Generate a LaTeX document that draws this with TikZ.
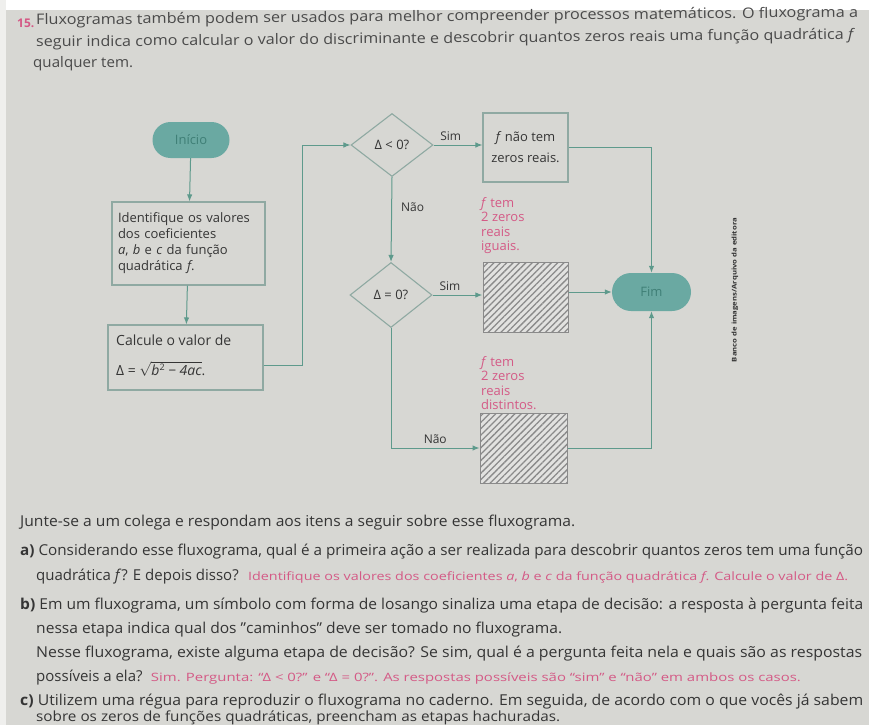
\documentclass[tikz,border=0pt]{standalone}
\usepackage{fontspec}
\setmainfont{Open Sans}
\usetikzlibrary{shapes.geometric,arrows.meta,patterns.meta,calc}
\definecolor{bg}{HTML}{D7D7D3}
\definecolor{tealc}{HTML}{6AA9A2}
\definecolor{tealdark}{HTML}{3F7F76}
\definecolor{lnc}{HTML}{5E9A8C}
\definecolor{boxc}{HTML}{8FA9A2}
\definecolor{txt}{HTML}{353535}
\definecolor{toptxt}{HTML}{4A4A4A}
\definecolor{pinkc}{HTML}{D45A86}
\definecolor{hatc}{HTML}{8A8A8A}
\definecolor{hatbg}{HTML}{E2E2E0}
\newsavebox\fitbox
\newcommand\fitw[2]{\sbox\fitbox{#2}\pgfmathsetmacro\fitr{#1/\the\wd\fitbox}\scalebox{\fitr}[1]{\usebox\fitbox}}
\tikzset{
  body/.style={anchor=base west, inner sep=0pt, text=txt, font=\fontsize{15}{18}\selectfont},
  topline/.style={anchor=base west, inner sep=0pt, text=toptxt, font=\fontsize{14.5}{18}\selectfont, rotate=0.55},
  ans/.style={anchor=base west, inner sep=0pt, text=pinkc, font=\fontsize{11.5}{13}\selectfont},
  term/.style={rectangle, rounded corners=18pt, fill=tealc, draw=none, text=tealdark, font=\fontsize{13}{15}\selectfont},
  proc/.style={rectangle, draw=boxc, line width=1.1pt, text=txt, font=\fontsize{13}{16}\selectfont, align=left},
  dec/.style={diamond, draw=boxc, line width=1.1pt, inner sep=0pt},
  dect/.style={text=txt, font=\fontsize{13}{15}\selectfont},
  intext/.style={anchor=base west, inner sep=0pt, text=txt, font=\fontsize{14}{16}\selectfont},
  hat/.style={rectangle, draw=hatc, line width=1pt, preaction={fill=hatbg}, pattern={Lines[angle=45,distance=4.5pt,line width=1.3pt]}, pattern color=hatc},
  conn/.style={draw=lnc, line width=1pt},
  arr/.style={conn, -{Latex[length=7pt,width=5.5pt]}},
  lbl/.style={text=txt, font=\fontsize{12}{13}\selectfont, inner sep=1pt},
  pnote/.style={anchor=north west, text=pinkc, font=\fontsize{13}{14.5}\selectfont, align=left, inner sep=0pt}
}
\begin{document}
\begin{tikzpicture}[x=1pt,y=-1pt]
\useasboundingbox (0,0) rectangle (869,725);
\fill[bg] (0,0) rectangle (869,725);
\fill[white] (0,0) rectangle (869,10);
\fill[white!60!bg] (0,0) rectangle (6,725);

% top text
\node[anchor=base west, inner sep=0pt, text=pinkc, font=\bfseries\fontsize{12}{14}\selectfont] (num) at (17,28) {15.};
\node[topline] (t1) at (36,25) {\fitw{822}{Fluxogramas também podem ser usados para melhor compreender processos matemáticos. O fluxograma a}};
\node[topline] (t2) at (36,47) {\fitw{819}{seguir indica como calcular o valor do discriminante e descobrir quantos zeros reais uma função quadrática \textit{f}}};
\node[topline] (t3) at (33,68) {\fitw{100}{qualquer tem.}};

% flowchart
\node[term, minimum width=77pt, minimum height=36pt] (ini) at (191,140) {Início};
\node[proc, minimum width=153pt, minimum height=83pt, text width=141pt, inner xsep=6pt] (b1) at (188.5,243.5)
  {Identifique os valores\\dos coeficientes\\\textit{a}, \textit{b} e \textit{c} da função\\quadrática \textit{f}.};
\node[proc, minimum width=155pt, minimum height=65pt] (b2) at (185.5,357.5) {};
\node[intext] (b2a) at (116,345) {Calcule o valor de};
\node[intext] (b2b) at (116,375) {Δ = $\sqrt{\mbox{\itshape b\raisebox{0.55ex}{\upshape\fontsize{9}{9}\selectfont 2} − 4ac}}$.};
\node[dec, minimum width=82pt, minimum height=63pt] (d1) at (392,145) {};
\node[dect] (d1t) at (d1) {Δ < 0?};
\node[dec, minimum width=82pt, minimum height=65pt] (d2) at (391,295) {};
\node[dect] (d2t) at (d2) {Δ = 0?};
\node[proc, minimum width=85pt, minimum height=69pt, align=center, font=\fontsize{13}{21}\selectfont] (bn) at (525.5,147.5) {\textit{f} não tem\\zeros reais.};
\node[hat, minimum width=85pt, minimum height=70pt] (h1) at (525.5,297) {};
\node[hat, minimum width=87pt, minimum height=70pt] (h2) at (523.5,448) {};
\node[term, minimum width=79pt, minimum height=38pt, rounded corners=19pt] (fim) at (651.5,292) {Fim};

\node[pnote] (p1) at (481,197) {\textit{f} tem\\2 zeros\\reais\\iguais.};
\node[pnote] (p2) at (481,356) {\textit{f} tem\\2 zeros\\reais\\distintos.};

% connectors
\draw[arr] (ini) -- (b1);
\draw[arr] (b1) -- (b2);
\coordinate (j1) at (302,365);
\draw[arr] (j1 -| b2.east) -- (j1) |- (d1.west);
\draw[arr] (d1.east) -- node[lbl, above=3pt, pos=0.35] {Sim} (d1.east -| bn.west);
\draw[arr] (d1.south) -- node[lbl, right=8pt, pos=0.36] {Não} (d2.north);
\draw[arr] (d2.east) -- node[lbl, above=3pt, pos=0.35] {Sim} (d2.east -| h1.west);
\draw[arr] (d2.south) |- node[lbl, above=3pt, pos=0.75] {Não} (h2.west);
\draw[arr] (bn.east) -| (fim.north);
\draw[arr] (h1.east |- fim.west) -- (fim.west);
\draw[arr] (h2.east) -| (fim.south);

\node[rotate=90, inner sep=0pt, text=black!80, font=\bfseries\fontsize{6.5}{7}\selectfont] (cred) at (735,290) {\fitw{144}{Banco de imagens/Arquivo da editora}};

% questions
\node[body] (q0) at (20,526) {\fitw{555}{Junte-se a um colega e respondam aos itens a seguir sobre esse fluxograma.}};
\node[body] (qa1) at (20,555) {\fitw{843}{\textbf{a)} Considerando esse fluxograma, qual é a primeira ação a ser realizada para descobrir quantos zeros tem uma função}};
\node[body] (qa2) at (36,580) {quadrática \textit{f}? E depois disso?};
\node[ans] (aa) at ([xshift=9pt]qa2.base east) {\fitw{600}{Identifique os valores dos coeficientes \textit{a}, \textit{b} e \textit{c} da função quadrática \textit{f}. Calcule o valor de Δ.}};
\node[body] (qb1) at (20,609) {\fitw{843}{\textbf{b)} Em um fluxograma, um símbolo com forma de losango sinaliza uma etapa de decisão: a resposta à pergunta feita}};
\node[body] (qb2) at (36,633) {\fitw{526}{nessa etapa indica qual dos "caminhos" deve ser tomado no fluxograma.}};
\node[body] (qb3) at (36,657) {\fitw{826}{Nesse fluxograma, existe alguma etapa de decisão? Se sim, qual é a pergunta feita nela e quais são as respostas}};
\node[body] (qb4) at (36,681) {possíveis a ela?};
\node[ans] (ab) at ([xshift=8pt]qb4.base east) {\fitw{650}{Sim. Pergunta: “Δ < 0?” e “Δ = 0?”. As respostas possíveis são “sim” e “não” em ambos os casos.}};
\node[body] (qc1) at (20,705) {\fitw{843}{\textbf{c)} Utilizem uma régua para reproduzir o fluxograma no caderno. Em seguida, de acordo com o que vocês já sabem}};
\node[body, font=\fontsize{14}{16}\selectfont] (qc2) at (36,721) {\fitw{524}{sobre os zeros de funções quadráticas, preencham as etapas hachuradas.}};
\end{tikzpicture}
\end{document}
